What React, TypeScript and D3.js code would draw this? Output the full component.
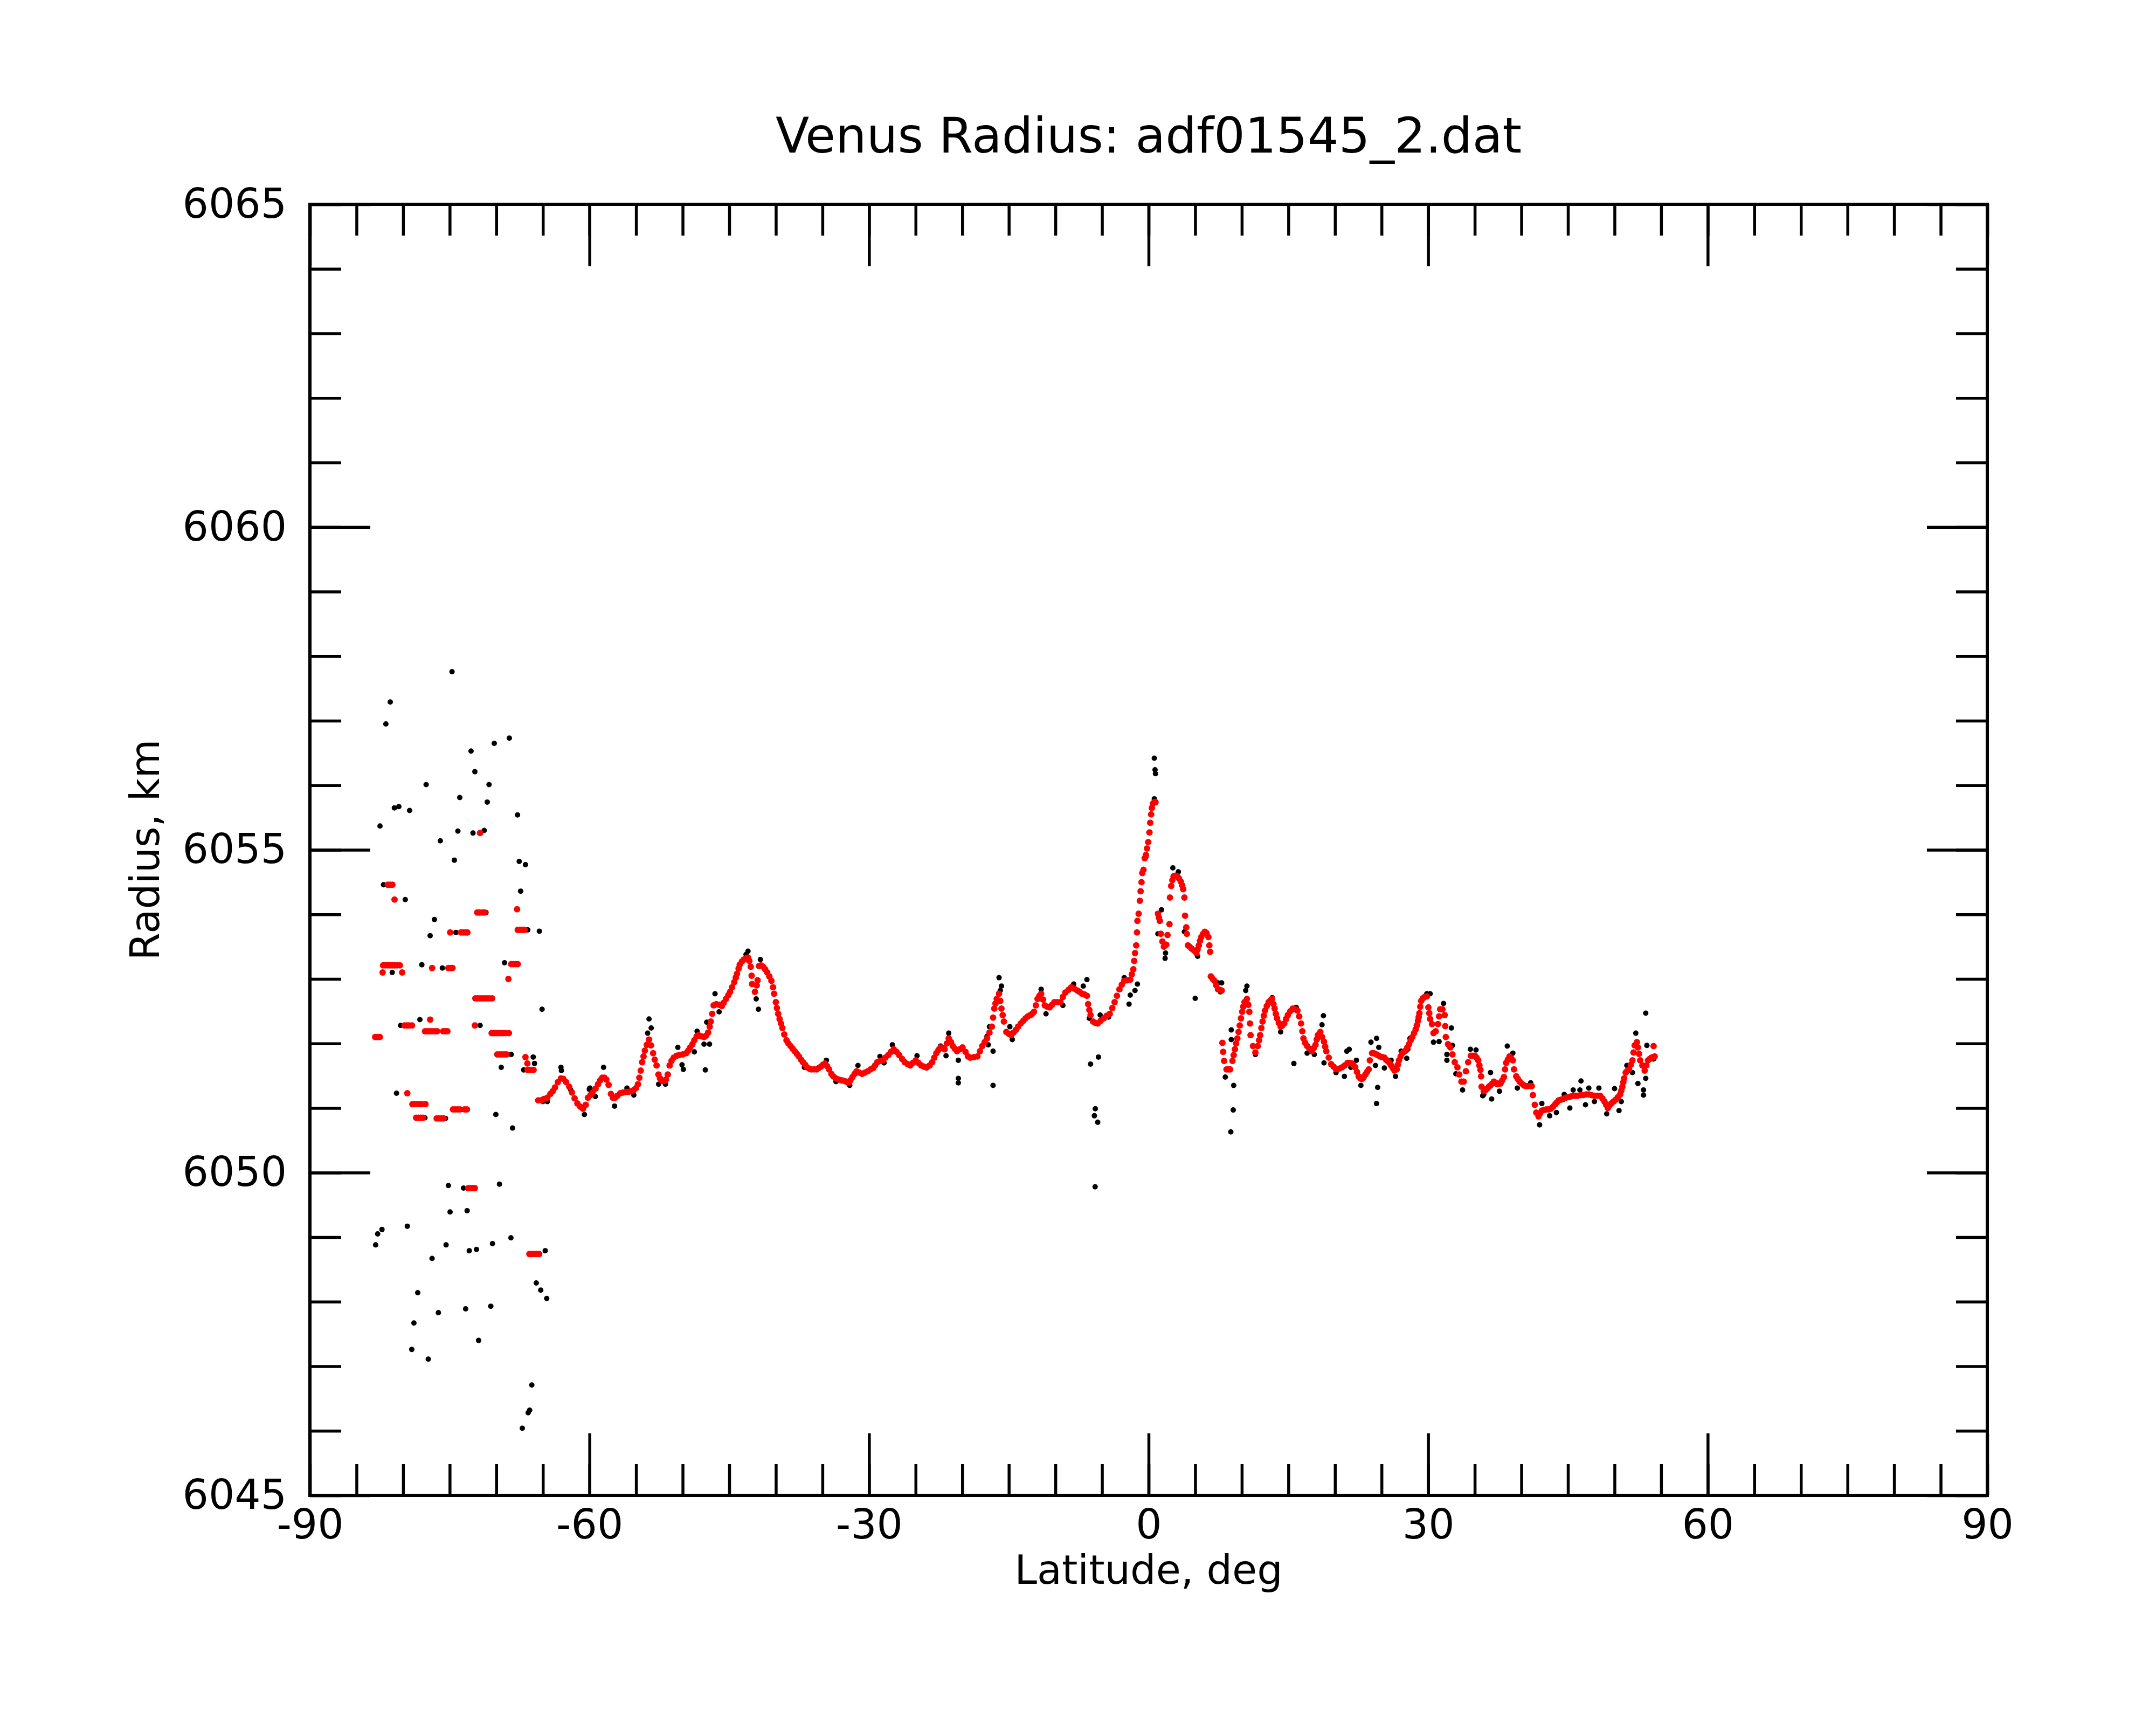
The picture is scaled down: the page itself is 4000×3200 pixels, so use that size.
import * as d3 from "d3";
import React, { useRef, useEffect } from "react";

const width = 4000;
const height = 3200;
const margin = { top: 379, right: 313, bottom: 426, left: 575 };

const title = "Venus Radius: adf01545_2.dat";
const xLabel = "Latitude, deg";
const yLabel = "Radius, km";

const latDomain = [-90, 90];
const radiusDomain = [6045, 6065];
const latTicks = [-90, -60, -30, 0, 30, 60, 90];
const radiusTicks = [6045, 6050, 6055, 6060, 6065];

// red: fitted radius, stepped near the pole
const stepFit = [
  [-83.0, 6052.1], [-82.75, 6052.1], [-82.5, 6052.1],
  [-82.2, 6053.1], [-82.15, 6053.21], [-81.9, 6053.21], [-81.65, 6053.21], [-81.4, 6053.21],
  [-81.15, 6053.21], [-80.9, 6053.21], [-80.65, 6053.21], [-80.35, 6053.21], [-80.1, 6053.1],
  [-81.65, 6054.46], [-81.4, 6054.46], [-81.15, 6054.46], [-80.92, 6054.23],
  [-79.85, 6052.28], [-79.6, 6052.28], [-79.35, 6052.28], [-79.05, 6052.28],
  [-79.55, 6051.23],
  [-79.0, 6051.06], [-78.75, 6051.06], [-78.5, 6051.06], [-78.25, 6051.06], [-78.0, 6051.06], [-77.6, 6051.06],
  [-78.6, 6050.85], [-78.35, 6050.85], [-78.1, 6050.85], [-77.85, 6050.85],
  [-77.1, 6052.37],
  [-77.65, 6052.19], [-77.4, 6052.19], [-77.15, 6052.19], [-76.9, 6052.19], [-76.6, 6052.19], [-76.35, 6052.19],
  [-76.89, 6053.17],
  [-76.4, 6050.84], [-76.15, 6050.84], [-75.9, 6050.84], [-75.65, 6050.84],
  [-75.7, 6052.19], [-75.45, 6052.19], [-75.25, 6052.19],
  [-75.15, 6053.17], [-74.9, 6053.17], [-74.7, 6053.17],
  [-74.95, 6053.72],
  [-74.65, 6050.98], [-74.4, 6050.98], [-74.15, 6050.98], [-73.9, 6050.98], [-73.4, 6050.98], [-73.15, 6050.98],
  [-73.8, 6053.72], [-73.55, 6053.72], [-73.3, 6053.72], [-73.1, 6053.72],
  [-73.0, 6049.76], [-72.75, 6049.76], [-72.5, 6049.76], [-72.3, 6049.76],
  [-72.25, 6052.7], [-72.0, 6052.7], [-71.75, 6052.7], [-71.5, 6052.7], [-71.25, 6052.7],
  [-71.0, 6052.7], [-70.75, 6052.7], [-70.45, 6052.7],
  [-72.3, 6052.28],
  [-72.05, 6054.03], [-71.8, 6054.03], [-71.5, 6054.03], [-71.25, 6054.03],
  [-71.74, 6055.26],
  [-70.5, 6052.16], [-70.25, 6052.16], [-70.0, 6052.16], [-69.75, 6052.16], [-69.5, 6052.16],
  [-69.25, 6052.16], [-69.0, 6052.16], [-68.65, 6052.16],
  [-69.9, 6051.83], [-69.65, 6051.83], [-69.4, 6051.83], [-69.15, 6051.83], [-68.9, 6051.83],
  [-68.7, 6053.0],
  [-68.4, 6053.23], [-68.15, 6053.23], [-67.9, 6053.23], [-67.7, 6053.23],
  [-67.77, 6054.08],
  [-67.7, 6053.76], [-67.45, 6053.76], [-67.2, 6053.76], [-66.95, 6053.76],
  [-66.87, 6051.79], [-66.67, 6051.69],
  [-66.65, 6051.59], [-66.4, 6051.59], [-66.15, 6051.59], [-66.0, 6051.59],
  [-66.45, 6048.74], [-66.2, 6048.74], [-65.95, 6048.74], [-65.7, 6048.74], [-65.4, 6048.74],
];

// red: fitted radius along the track
const curveFit = [
  [-65.5, 6051.12], [-65.2, 6051.12], [-64.9, 6051.14], [-64.53, 6051.16], [-64.2, 6051.22], [-63.95, 6051.26],
  [-63.7, 6051.32], [-63.4, 6051.4], [-63.06, 6051.46], [-62.8, 6051.45], [-62.5, 6051.4], [-62.17, 6051.33],
  [-61.88, 6051.24], [-61.6, 6051.15], [-61.3, 6051.07], [-60.99, 6051.02], [-60.7, 6050.99], [-60.4, 6051.05],
  [-60.17, 6051.16], [-59.9, 6051.2], [-59.67, 6051.24], [-59.35, 6051.3], [-59.08, 6051.37], [-58.85, 6051.43],
  [-58.63, 6051.47], [-58.4, 6051.47], [-58.19, 6051.44], [-57.95, 6051.36], [-57.7, 6051.22], [-57.5, 6051.16],
  [-57.25, 6051.16], [-57.01, 6051.19], [-56.7, 6051.23], [-56.4, 6051.24], [-56.1, 6051.25], [-55.8, 6051.25],
  [-55.5, 6051.26], [-55.24, 6051.28], [-55.0, 6051.31], [-54.8, 6051.37], [-54.65, 6051.47], [-54.5, 6051.58],
  [-54.35, 6051.71], [-54.2, 6051.8], [-54.06, 6051.89], [-53.85, 6051.98], [-53.61, 6052.06], [-53.4, 6051.97],
  [-53.17, 6051.85], [-53.0, 6051.75], [-52.8, 6051.66], [-52.6, 6051.52], [-52.43, 6051.46], [-52.2, 6051.42],
  [-51.99, 6051.42], [-51.8, 6051.44], [-51.6, 6051.52], [-51.4, 6051.66], [-51.2, 6051.73], [-50.96, 6051.78],
  [-50.65, 6051.81], [-50.37, 6051.82], [-50.0, 6051.83], [-49.63, 6051.85], [-49.4, 6051.89], [-49.19, 6051.94],
  [-48.95, 6051.99], [-48.75, 6052.05], [-48.5, 6052.11], [-48.3, 6052.13], [-48.0, 6052.11], [-47.71, 6052.1],
  [-47.5, 6052.12], [-47.27, 6052.17], [-47.1, 6052.26], [-46.98, 6052.34], [-46.83, 6052.46], [-46.68, 6052.59],
  [-46.4, 6052.61], [-46.09, 6052.6], [-45.8, 6052.58], [-45.6, 6052.63], [-45.35, 6052.69], [-45.1, 6052.75],
  [-44.91, 6052.8], [-44.7, 6052.87], [-44.47, 6052.95], [-44.3, 6053.02], [-44.17, 6053.08], [-44.0, 6053.16],
  [-43.88, 6053.22], [-43.65, 6053.27], [-43.44, 6053.3], [-43.2, 6053.32], [-42.99, 6053.33], [-42.85, 6053.28],
  [-42.7, 6053.19], [-42.6, 6053.05], [-42.55, 6052.92], [-42.25, 6052.8], [-42.05, 6052.9], [-41.96, 6052.98],
  [-41.81, 6053.2], [-41.6, 6053.21], [-41.37, 6053.19], [-41.15, 6053.15], [-40.93, 6053.1], [-40.7, 6053.04],
  [-40.48, 6052.97], [-40.3, 6052.87], [-40.19, 6052.77], [-40.0, 6052.64], [-39.89, 6052.55], [-39.75, 6052.46],
  [-39.6, 6052.38], [-39.45, 6052.31], [-39.3, 6052.24], [-39.1, 6052.14], [-38.86, 6052.05], [-38.65, 6052.0],
  [-38.42, 6051.96], [-38.2, 6051.92], [-37.97, 6051.88], [-37.75, 6051.84], [-37.53, 6051.8], [-37.3, 6051.75],
  [-37.09, 6051.71], [-36.85, 6051.67], [-36.65, 6051.63], [-36.4, 6051.61], [-36.2, 6051.6], [-35.9, 6051.6],
  [-35.61, 6051.6], [-35.4, 6051.62], [-35.17, 6051.64], [-34.95, 6051.67], [-34.73, 6051.69], [-34.5, 6051.65],
  [-34.29, 6051.6], [-34.05, 6051.53], [-33.84, 6051.49], [-33.55, 6051.46], [-33.25, 6051.44], [-32.95, 6051.43],
  [-32.66, 6051.42], [-32.45, 6051.41], [-32.22, 6051.39], [-32.0, 6051.43], [-31.78, 6051.48], [-31.55, 6051.53],
  [-31.34, 6051.57], [-31.05, 6051.55], [-30.75, 6051.53], [-30.45, 6051.55], [-30.15, 6051.57], [-29.85, 6051.6],
  [-29.56, 6051.62], [-29.35, 6051.66], [-29.12, 6051.71], [-28.8, 6051.73], [-28.53, 6051.74], [-28.25, 6051.78],
  [-27.94, 6051.82], [-27.65, 6051.87], [-27.35, 6051.91], [-27.05, 6051.87], [-26.76, 6051.82], [-26.45, 6051.76],
  [-26.17, 6051.71], [-25.85, 6051.68], [-25.58, 6051.66], [-25.3, 6051.7], [-24.99, 6051.74], [-24.7, 6051.7],
  [-24.4, 6051.66], [-24.1, 6051.64], [-23.81, 6051.63], [-23.5, 6051.66], [-23.22, 6051.71], [-23.0, 6051.78],
  [-22.78, 6051.85], [-22.55, 6051.9], [-22.33, 6051.94], [-22.1, 6051.93], [-21.89, 6051.91], [-21.65, 6052.0],
  [-21.45, 6052.08], [-21.2, 6052.02], [-21.01, 6051.96], [-20.8, 6051.92], [-20.56, 6051.88], [-20.25, 6051.91],
  [-19.97, 6051.94], [-19.65, 6051.87], [-19.38, 6051.8], [-19.15, 6051.78], [-18.75, 6051.79], [-18.37, 6051.8],
  [-18.1, 6051.88], [-17.85, 6051.96], [-17.6, 6052.02], [-17.34, 6052.08], [-17.08, 6052.17], [-16.82, 6052.26],
  [-16.69, 6052.4], [-16.56, 6052.54], [-16.43, 6052.62], [-16.3, 6052.69], [-16.05, 6052.77], [-15.92, 6052.66],
  [-15.79, 6052.54], [-15.66, 6052.44], [-15.53, 6052.34], [-15.27, 6052.18], [-15.0, 6052.15], [-14.75, 6052.13],
  [-14.5, 6052.17], [-14.24, 6052.21], [-14.0, 6052.26], [-13.72, 6052.31], [-13.45, 6052.35], [-13.21, 6052.39],
  [-12.95, 6052.42], [-12.69, 6052.44], [-12.5, 6052.46], [-12.3, 6052.49], [-12.1, 6052.59], [-11.92, 6052.69],
  [-11.72, 6052.74], [-11.53, 6052.77], [-11.33, 6052.68], [-11.14, 6052.59], [-10.88, 6052.57], [-10.62, 6052.56],
  [-10.36, 6052.6], [-10.11, 6052.64], [-9.8, 6052.64], [-9.46, 6052.64], [-9.2, 6052.72], [-8.94, 6052.79],
  [-8.6, 6052.83], [-8.3, 6052.87], [-7.98, 6052.85], [-7.65, 6052.82], [-7.4, 6052.8], [-7.14, 6052.77],
  [-6.88, 6052.76], [-6.62, 6052.74], [-6.49, 6052.61], [-6.36, 6052.52], [-6.23, 6052.44], [-5.97, 6052.34],
  [-5.72, 6052.32], [-5.46, 6052.31], [-5.15, 6052.35], [-4.81, 6052.39], [-4.5, 6052.43], [-4.17, 6052.46],
  [-3.9, 6052.55], [-3.65, 6052.64], [-3.4, 6052.74], [-3.13, 6052.84], [-2.88, 6052.91], [-2.62, 6052.97],
  [-2.3, 6052.98], [-1.97, 6052.99], [-1.8, 6053.07], [-1.64, 6053.15], [-1.55, 6053.28], [-1.46, 6053.4],
  [-1.33, 6053.52], [-1.25, 6053.72], [-1.2, 6053.9], [-1.07, 6054.01], [-0.94, 6054.21], [-0.86, 6054.36],
  [-0.76, 6054.5], [-0.68, 6054.64], [-0.55, 6054.69], [-0.42, 6054.87], [-0.29, 6054.92], [-0.17, 6055.02],
  [-0.04, 6055.12], [0.09, 6055.27], [0.17, 6055.42], [0.27, 6055.55], [0.35, 6055.65], [0.48, 6055.72],
  [0.61, 6055.74], [0.74, 6055.74],
  [1.0, 6054.01], [1.1, 6053.95], [1.2, 6053.9], [1.31, 6053.7], [1.48, 6053.58], [1.64, 6053.5], [1.9, 6053.53],
  [2.03, 6053.68], [2.24, 6053.85], [2.29, 6054.26], [2.42, 6054.44], [2.55, 6054.53], [2.68, 6054.59],
  [2.87, 6054.6], [3.06, 6054.59], [3.25, 6054.56], [3.45, 6054.51], [3.6, 6054.45], [3.71, 6054.39],
  [3.84, 6054.26], [3.91, 6053.98], [4.04, 6053.8], [4.1, 6053.7], [4.22, 6053.52], [4.4, 6053.5], [4.61, 6053.47],
  [4.87, 6053.44], [5.13, 6053.4], [5.26, 6053.46], [5.39, 6053.52], [5.52, 6053.59], [5.65, 6053.65],
  [5.85, 6053.7], [6.03, 6053.73], [6.22, 6053.71], [6.42, 6053.65], [6.52, 6053.52], [6.6, 6053.42],
  [6.68, 6053.04], [6.88, 6053.0], [7.07, 6052.97], [7.26, 6052.9], [7.45, 6052.84], [7.65, 6052.83], [7.84, 6052.82],
  [7.92, 6052.01], [8.0, 6051.87], [8.1, 6051.73], [8.36, 6051.6], [8.55, 6051.6], [8.74, 6051.6], [9.0, 6051.73],
  [9.13, 6051.82], [9.26, 6051.91], [9.39, 6052.0], [9.52, 6052.08], [9.65, 6052.18], [9.78, 6052.28],
  [9.91, 6052.39], [10.04, 6052.49], [10.16, 6052.57], [10.29, 6052.64], [10.55, 6052.69], [10.7, 6052.6],
  [10.81, 6052.49], [10.88, 6052.31], [10.94, 6052.13], [11.2, 6051.96], [11.46, 6051.86], [11.71, 6051.96],
  [11.85, 6052.05], [11.97, 6052.13], [12.1, 6052.24], [12.23, 6052.34], [12.36, 6052.43], [12.49, 6052.51],
  [12.68, 6052.58], [12.88, 6052.64], [13.07, 6052.67], [13.26, 6052.69], [13.4, 6052.61], [13.52, 6052.54],
  [13.65, 6052.46], [13.78, 6052.39], [13.97, 6052.32], [14.17, 6052.26], [14.36, 6052.28], [14.56, 6052.31],
  [14.75, 6052.38], [14.94, 6052.44], [15.2, 6052.5], [15.46, 6052.54], [15.72, 6052.53], [15.97, 6052.51],
  [16.16, 6052.42], [16.36, 6052.31], [16.5, 6052.19], [16.62, 6052.08], [16.8, 6052.01], [17.01, 6051.96],
  [17.26, 6051.92], [17.52, 6051.88], [17.72, 6051.93], [17.91, 6051.98], [18.04, 6052.06], [18.17, 6052.13],
  [18.43, 6052.18], [18.62, 6052.1], [18.82, 6052.03], [18.95, 6051.95], [19.07, 6051.88], [19.33, 6051.78],
  [19.59, 6051.68], [19.85, 6051.64], [20.11, 6051.6], [20.43, 6051.61], [20.75, 6051.63], [21.05, 6051.66],
  [21.35, 6051.7], [21.6, 6051.7], [21.82, 6051.69], [22.0, 6051.66], [22.18, 6051.63], [22.36, 6051.56],
  [22.54, 6051.49], [22.72, 6051.46], [22.9, 6051.45], [23.08, 6051.48], [23.26, 6051.52], [23.44, 6051.56],
  [23.62, 6051.6], [23.74, 6051.74], [23.98, 6051.85], [24.16, 6051.85], [24.34, 6051.84], [24.58, 6051.82],
  [24.82, 6051.8], [25.06, 6051.79], [25.3, 6051.78], [25.48, 6051.75], [25.66, 6051.73], [25.84, 6051.7],
  [26.02, 6051.66], [26.2, 6051.62], [26.38, 6051.58], [26.62, 6051.6], [26.74, 6051.67], [26.86, 6051.74],
  [27.04, 6051.8], [27.22, 6051.85], [27.4, 6051.87], [27.58, 6051.89], [27.76, 6051.94], [27.94, 6051.99],
  [28.12, 6052.05], [28.3, 6052.1], [28.48, 6052.16], [28.66, 6052.22], [28.78, 6052.28], [28.9, 6052.35],
  [28.98, 6052.41], [29.06, 6052.47], [29.15, 6052.57], [29.25, 6052.66], [29.43, 6052.7], [29.61, 6052.72],
  [29.85, 6052.73], [30.02, 6052.56], [30.12, 6052.47], [30.21, 6052.38], [30.41, 6052.3], [30.57, 6052.16],
  [30.81, 6052.19], [31.05, 6052.3], [31.17, 6052.42], [31.29, 6052.53], [31.53, 6052.53], [31.77, 6052.44],
  [31.83, 6052.27], [31.89, 6052.1], [32.13, 6051.99], [32.37, 6051.94], [32.61, 6051.83], [32.85, 6051.71],
  [33.14, 6051.63], [33.33, 6051.52], [33.57, 6051.41], [33.81, 6051.41], [34.05, 6051.57], [34.29, 6051.71],
  [34.58, 6051.81], [34.8, 6051.81], [35.01, 6051.81], [35.2, 6051.78], [35.37, 6051.74], [35.5, 6051.66],
  [35.61, 6051.59], [35.68, 6051.49], [35.73, 6051.33], [35.97, 6051.26], [36.15, 6051.28], [36.33, 6051.3],
  [36.51, 6051.33], [36.69, 6051.35], [36.87, 6051.38], [37.05, 6051.41], [37.23, 6051.39], [37.41, 6051.37],
  [37.59, 6051.38], [37.77, 6051.38], [37.95, 6051.43], [38.13, 6051.48], [38.25, 6051.6], [38.37, 6051.7],
  [38.55, 6051.75], [38.73, 6051.8], [38.91, 6051.77], [39.09, 6051.74], [39.21, 6051.6], [39.45, 6051.49],
  [39.63, 6051.45], [39.81, 6051.41], [40.04, 6051.38], [40.28, 6051.35], [40.46, 6051.34], [40.64, 6051.34],
  [40.88, 6051.34], [41.12, 6051.34], [41.24, 6051.2], [41.44, 6051.05], [41.6, 6050.93], [41.84, 6050.87],
  [42.02, 6050.92], [42.2, 6050.96], [42.44, 6050.97], [42.68, 6050.98], [42.92, 6050.98], [43.16, 6050.99],
  [43.4, 6051.02], [43.64, 6051.06], [43.82, 6051.09], [44.0, 6051.12], [44.24, 6051.13], [44.48, 6051.14],
  [44.78, 6051.16], [45.08, 6051.17], [45.32, 6051.18], [45.56, 6051.19], [45.8, 6051.19], [46.04, 6051.19],
  [46.34, 6051.2], [46.64, 6051.2], [46.94, 6051.21], [47.24, 6051.21], [47.54, 6051.2], [47.84, 6051.19],
  [48.14, 6051.19], [48.45, 6051.19], [48.7, 6051.15], [48.92, 6051.1], [49.1, 6051.05], [49.28, 6051.0],
  [49.46, 6051.04], [49.64, 6051.07], [49.88, 6051.1], [50.12, 6051.13], [50.36, 6051.17], [50.6, 6051.21],
  [50.72, 6051.27], [50.84, 6051.33], [50.94, 6051.4], [51.03, 6051.46], [51.2, 6051.55], [51.38, 6051.58],
  [51.56, 6051.6], [51.74, 6051.67], [51.92, 6051.74], [52.04, 6051.86], [52.16, 6051.97], [52.4, 6052.02],
  [52.51, 6051.94], [52.63, 6051.84], [52.75, 6051.74], [52.99, 6051.66], [53.23, 6051.58], [53.41, 6051.66],
  [53.59, 6051.74], [53.77, 6051.76], [53.95, 6051.78], [54.13, 6051.79], [54.31, 6051.8], [54.19, 6051.96],
];

// black: raw radius, polar scatter
const rawScatter = [
  [-74.75, 6057.76], [-81.38, 6057.29], [-81.85, 6056.95], [-68.6, 6056.73], [-70.22, 6056.65], [-72.71, 6056.53],
  [-72.3, 6056.21], [-77.53, 6056.01], [-70.78, 6056.01], [-73.92, 6055.81], [-70.97, 6055.74], [-67.72, 6055.54],
  [-80.94, 6055.65], [-80.46, 6055.67], [-79.3, 6055.61], [-82.48, 6055.37], [-76.01, 6055.14], [-74.12, 6055.29],
  [-72.5, 6055.26], [-71.3, 6055.3], [-74.5, 6054.84], [-67.54, 6054.82], [-66.87, 6054.77], [-82.1, 6054.46],
  [-79.77, 6054.23], [-67.39, 6054.36], [-71.11, 6054.03], [-76.64, 6053.92], [-77.1, 6053.67], [-74.33, 6053.72],
  [-66.62, 6053.76], [-65.38, 6053.74], [-77.99, 6053.22], [-81.17, 6053.1], [-75.79, 6053.17], [-69.12, 6053.25],
  [-71.58, 6052.7], [-65.09, 6052.53], [-80.27, 6052.28], [-78.2, 6052.37], [-71.74, 6052.28], [-68.4, 6051.83],
  [-69.47, 6051.63], [-66.04, 6051.79], [-65.9, 6051.69], [-67.06, 6051.59], [-80.71, 6051.23], [-77.66, 6050.85],
  [-75.45, 6050.84], [-73.67, 6050.98], [-70.05, 6050.9], [-68.26, 6050.69], [-75.14, 6049.8], [-73.52, 6049.76],
  [-69.66, 6049.82], [-74.96, 6049.39], [-73.13, 6049.41], [-82.73, 6049.05], [-82.27, 6049.12], [-82.95, 6048.88],
  [-79.55, 6049.17], [-76.89, 6048.67], [-75.39, 6048.88], [-72.9, 6048.79], [-72.13, 6048.81], [-70.41, 6048.9],
  [-68.43, 6048.99], [-64.75, 6048.79], [-65.71, 6048.29], [-65.23, 6048.18], [-64.59, 6048.05], [-78.43, 6048.14],
  [-78.84, 6047.67], [-79.07, 6047.26], [-76.22, 6047.83], [-77.3, 6047.11], [-73.29, 6047.89], [-70.59, 6047.93],
  [-71.9, 6047.4], [-66.19, 6046.71], [-66.42, 6046.32], [-66.58, 6046.28], [-67.21, 6046.04],
];

// black: raw radius along the track
const rawTrack = [
  [-65.0, 6051.1], [-64.53, 6051.1], [-63.06, 6051.63], [-63.01, 6051.58], [-62.0, 6051.28], [-60.55, 6050.9],
  [-60.02, 6051.29], [-59.96, 6051.31], [-59.37, 6051.18], [-58.49, 6051.63], [-57.31, 6051.03], [-55.98, 6051.31],
  [-55.24, 6051.2], [-53.61, 6052.38], [-53.38, 6052.24], [-53.76, 6052.16], [-52.58, 6051.37], [-51.85, 6051.37],
  [-50.52, 6051.94], [-50.07, 6051.67], [-49.93, 6051.6], [-48.75, 6051.87], [-48.45, 6052.19], [-47.71, 6051.99],
  [-47.12, 6051.99], [-47.57, 6051.59], [-47.42, 6052.33], [-46.53, 6052.77], [-46.09, 6052.49], [-42.99, 6053.43],
  [-43.2, 6053.38], [-41.66, 6053.3], [-42.11, 6052.69], [-41.87, 6052.53], [-36.94, 6051.63], [-34.58, 6051.74],
  [-33.55, 6051.41], [-32.07, 6051.35], [-31.19, 6051.66], [-28.83, 6051.8], [-27.5, 6051.98], [-28.39, 6051.7],
  [-24.85, 6051.81], [-23.81, 6051.62], [-22.33, 6051.96], [-21.45, 6052.16], [-21.74, 6051.81], [-20.42, 6051.74],
  [-20.42, 6051.46], [-20.42, 6051.39],
  [-17.34, 6052.11], [-17.08, 6052.26], [-17.21, 6051.98], [-16.69, 6051.88], [-16.69, 6051.35], [-16.05, 6053.02],
  [-15.79, 6052.89], [-15.92, 6052.82], [-14.89, 6052.26], [-14.63, 6052.06], [-11.53, 6052.84], [-11.01, 6052.46],
  [-9.2, 6052.59], [-8.04, 6052.92], [-7.01, 6052.89], [-6.62, 6052.99], [-6.36, 6052.39], [-5.2, 6052.44],
  [-6.23, 6051.68], [-5.38, 6051.79], [-5.72, 6050.99], [-5.82, 6050.88], [-5.46, 6050.78], [-5.74, 6049.78],
  [-4.3, 6052.41], [-2.62, 6053.02], [-2.1, 6052.61], [-1.97, 6052.75], [-1.46, 6052.82], [-1.2, 6052.92],
  [-0.29, 6054.89], [0.61, 6056.42], [0.69, 6056.24], [0.74, 6056.18], [0.61, 6055.79], [1.38, 6054.07],
  [1.0, 6053.7], [1.77, 6053.32], [1.82, 6053.4], [2.6, 6054.72], [3.19, 6054.66], [5.0, 6052.7], [3.84, 6053.73],
  [5.26, 6053.35], [7.45, 6052.94], [7.84, 6052.94], [7.71, 6052.8], [8.23, 6051.48], [8.87, 6052.21],
  [9.13, 6051.35], [9.08, 6050.97], [8.82, 6050.63], [8.87, 6052.06], [10.55, 6052.89], [10.42, 6052.82],
  [11.46, 6051.83], [13.26, 6052.71], [14.17, 6052.18], [15.59, 6051.69], [15.84, 6052.56], [17.01, 6051.85],
  [17.78, 6051.83], [18.76, 6052.43], [18.61, 6052.29], [18.82, 6051.7], [20.11, 6051.55], [21.01, 6051.49],
  [21.27, 6051.88],
  [21.53, 6051.91], [21.7, 6051.63], [22.3, 6051.74], [22.78, 6051.35], [23.86, 6052.02], [24.46, 6052.08],
  [24.34, 6051.66], [24.58, 6051.32], [24.46, 6051.07], [24.7, 6051.94], [25.3, 6051.62], [26.02, 6051.74],
  [26.5, 6051.49], [27.1, 6051.88], [27.7, 6051.77], [27.82, 6051.91], [28.05, 6052.08], [29.85, 6052.77],
  [30.21, 6052.77], [30.57, 6052.02], [31.17, 6052.03], [31.65, 6052.62], [32.49, 6052.24], [32.01, 6051.83],
  [32.01, 6051.74], [32.61, 6051.97], [32.97, 6051.53], [33.69, 6051.28], [34.53, 6051.91], [35.13, 6051.9],
  [35.85, 6051.19], [35.97, 6051.21], [36.69, 6051.55], [36.81, 6051.14], [37.65, 6051.26], [38.49, 6051.96],
  [39.09, 6051.85], [39.57, 6051.31], [40.04, 6051.38], [41.0, 6051.39], [41.96, 6050.74], [42.2, 6051.07],
  [43.04, 6050.88], [43.76, 6050.93], [44.6, 6051.21], [45.2, 6051.0], [45.56, 6051.28], [46.28, 6051.28],
  [46.4, 6051.42], [46.88, 6051.05], [47.24, 6051.31], [47.84, 6051.1], [48.32, 6051.31], [49.16, 6050.91],
  [50.0, 6051.3], [50.48, 6050.96], [50.72, 6051.1], [51.32, 6051.66], [51.92, 6051.55], [52.28, 6052.16],
  [52.51, 6051.38], [53.11, 6051.28], [53.11, 6051.2], [53.35, 6052.47], [53.47, 6051.97], [53.35, 6051.46],
  [54.19, 6051.76],
];

const font = "DejaVu Sans";

export default function App() {
  const ref = useRef(null);

  useEffect(() => {
    const svg = d3.select(ref.current);
    svg.selectAll("*").remove();

    const x = d3
      .scaleLinear()
      .domain(latDomain)
      .range([margin.left, width - margin.right]);
    const y = d3
      .scaleLinear()
      .domain(radiusDomain)
      .range([height - margin.bottom, margin.top]);

    const x0 = x(latDomain[0]);
    const x1 = x(latDomain[1]);
    const y0 = y(radiusDomain[0]);
    const y1 = y(radiusDomain[1]);

    // points first, frame on top
    const dots = svg.append("g");
    dots
      .selectAll(".raw")
      .data(rawScatter.concat(rawTrack))
      .join("circle")
      .attr("class", "raw")
      .attr("cx", (d: any) => x(d[0]))
      .attr("cy", (d: any) => y(d[1]))
      .attr("r", 5)
      .attr("fill", "black");

    dots
      .selectAll(".fit")
      .data(stepFit.concat(curveFit))
      .join("circle")
      .attr("class", "fit")
      .attr("cx", (d: any) => x(d[0]))
      .attr("cy", (d: any) => y(d[1]))
      .attr("r", 6)
      .attr("fill", "#ff0000");

    function styleAxis(g: any) {
      g.select(".domain").remove();
      g.selectAll("line").attr("stroke", "black").attr("stroke-width", 5.5);
      g.selectAll("text")
        .attr("font-family", font)
        .attr("font-size", 76)
        .attr("fill", "black");
    }

    const minorX = x.ticks(36);
    const minorY = y.ticks(20);
    const none = () => "";
    const plain = (d: any) => String(d);

    // bottom
    svg
      .append("g")
      .attr("transform", `translate(0,${y0})`)
      .call(d3.axisBottom(x).tickValues(minorX).tickSize(-58).tickFormat(none))
      .call(styleAxis);
    svg
      .append("g")
      .attr("transform", `translate(0,${y0})`)
      .call(
        d3
          .axisBottom(x)
          .tickValues(latTicks)
          .tickSize(-115)
          .tickPadding(26)
          .tickFormat(plain)
      )
      .call(styleAxis);

    // top
    svg
      .append("g")
      .attr("transform", `translate(0,${y1})`)
      .call(d3.axisTop(x).tickValues(minorX).tickSize(-58).tickFormat(none))
      .call(styleAxis);
    svg
      .append("g")
      .attr("transform", `translate(0,${y1})`)
      .call(d3.axisTop(x).tickValues(latTicks).tickSize(-115).tickFormat(none))
      .call(styleAxis);

    // left
    svg
      .append("g")
      .attr("transform", `translate(${x0},0)`)
      .call(d3.axisLeft(y).tickValues(minorY).tickSize(-58).tickFormat(none))
      .call(styleAxis);
    svg
      .append("g")
      .attr("transform", `translate(${x0},0)`)
      .call(
        d3
          .axisLeft(y)
          .tickValues(radiusTicks)
          .tickSize(-112)
          .tickPadding(43)
          .tickFormat(plain)
      )
      .call(styleAxis);

    // right
    svg
      .append("g")
      .attr("transform", `translate(${x1},0)`)
      .call(d3.axisRight(y).tickValues(minorY).tickSize(-58).tickFormat(none))
      .call(styleAxis);
    svg
      .append("g")
      .attr("transform", `translate(${x1},0)`)
      .call(d3.axisRight(y).tickValues(radiusTicks).tickSize(-112).tickFormat(none))
      .call(styleAxis);

    // frame
    svg
      .append("rect")
      .attr("x", x0)
      .attr("y", y1)
      .attr("width", x1 - x0)
      .attr("height", y0 - y1)
      .attr("fill", "none")
      .attr("stroke", "black")
      .attr("stroke-width", 6);

    // titles
    svg
      .append("text")
      .attr("x", (x0 + x1) / 2)
      .attr("y", 251)
      .attr("text-anchor", "middle")
      .attr("dominant-baseline", "central")
      .attr("font-family", font)
      .attr("font-size", 91)
      .text(title);

    svg
      .append("text")
      .attr("x", (x0 + x1) / 2)
      .attr("y", 2912)
      .attr("text-anchor", "middle")
      .attr("dominant-baseline", "central")
      .attr("font-family", font)
      .attr("font-size", 75)
      .text(xLabel);

    svg
      .append("text")
      .attr("transform", `translate(269,${(y0 + y1) / 2}) rotate(-90)`)
      .attr("text-anchor", "middle")
      .attr("dominant-baseline", "central")
      .attr("font-family", font)
      .attr("font-size", 74)
      .text(yLabel);
  }, []);

  return (
    <div style={{ position: "absolute", left: 0, top: 0, background: "white" }}>
      <svg ref={ref} width={width} height={height} viewBox={`0 0 ${width} ${height}`} style={{ display: "block" }} />
    </div>
  );
}
